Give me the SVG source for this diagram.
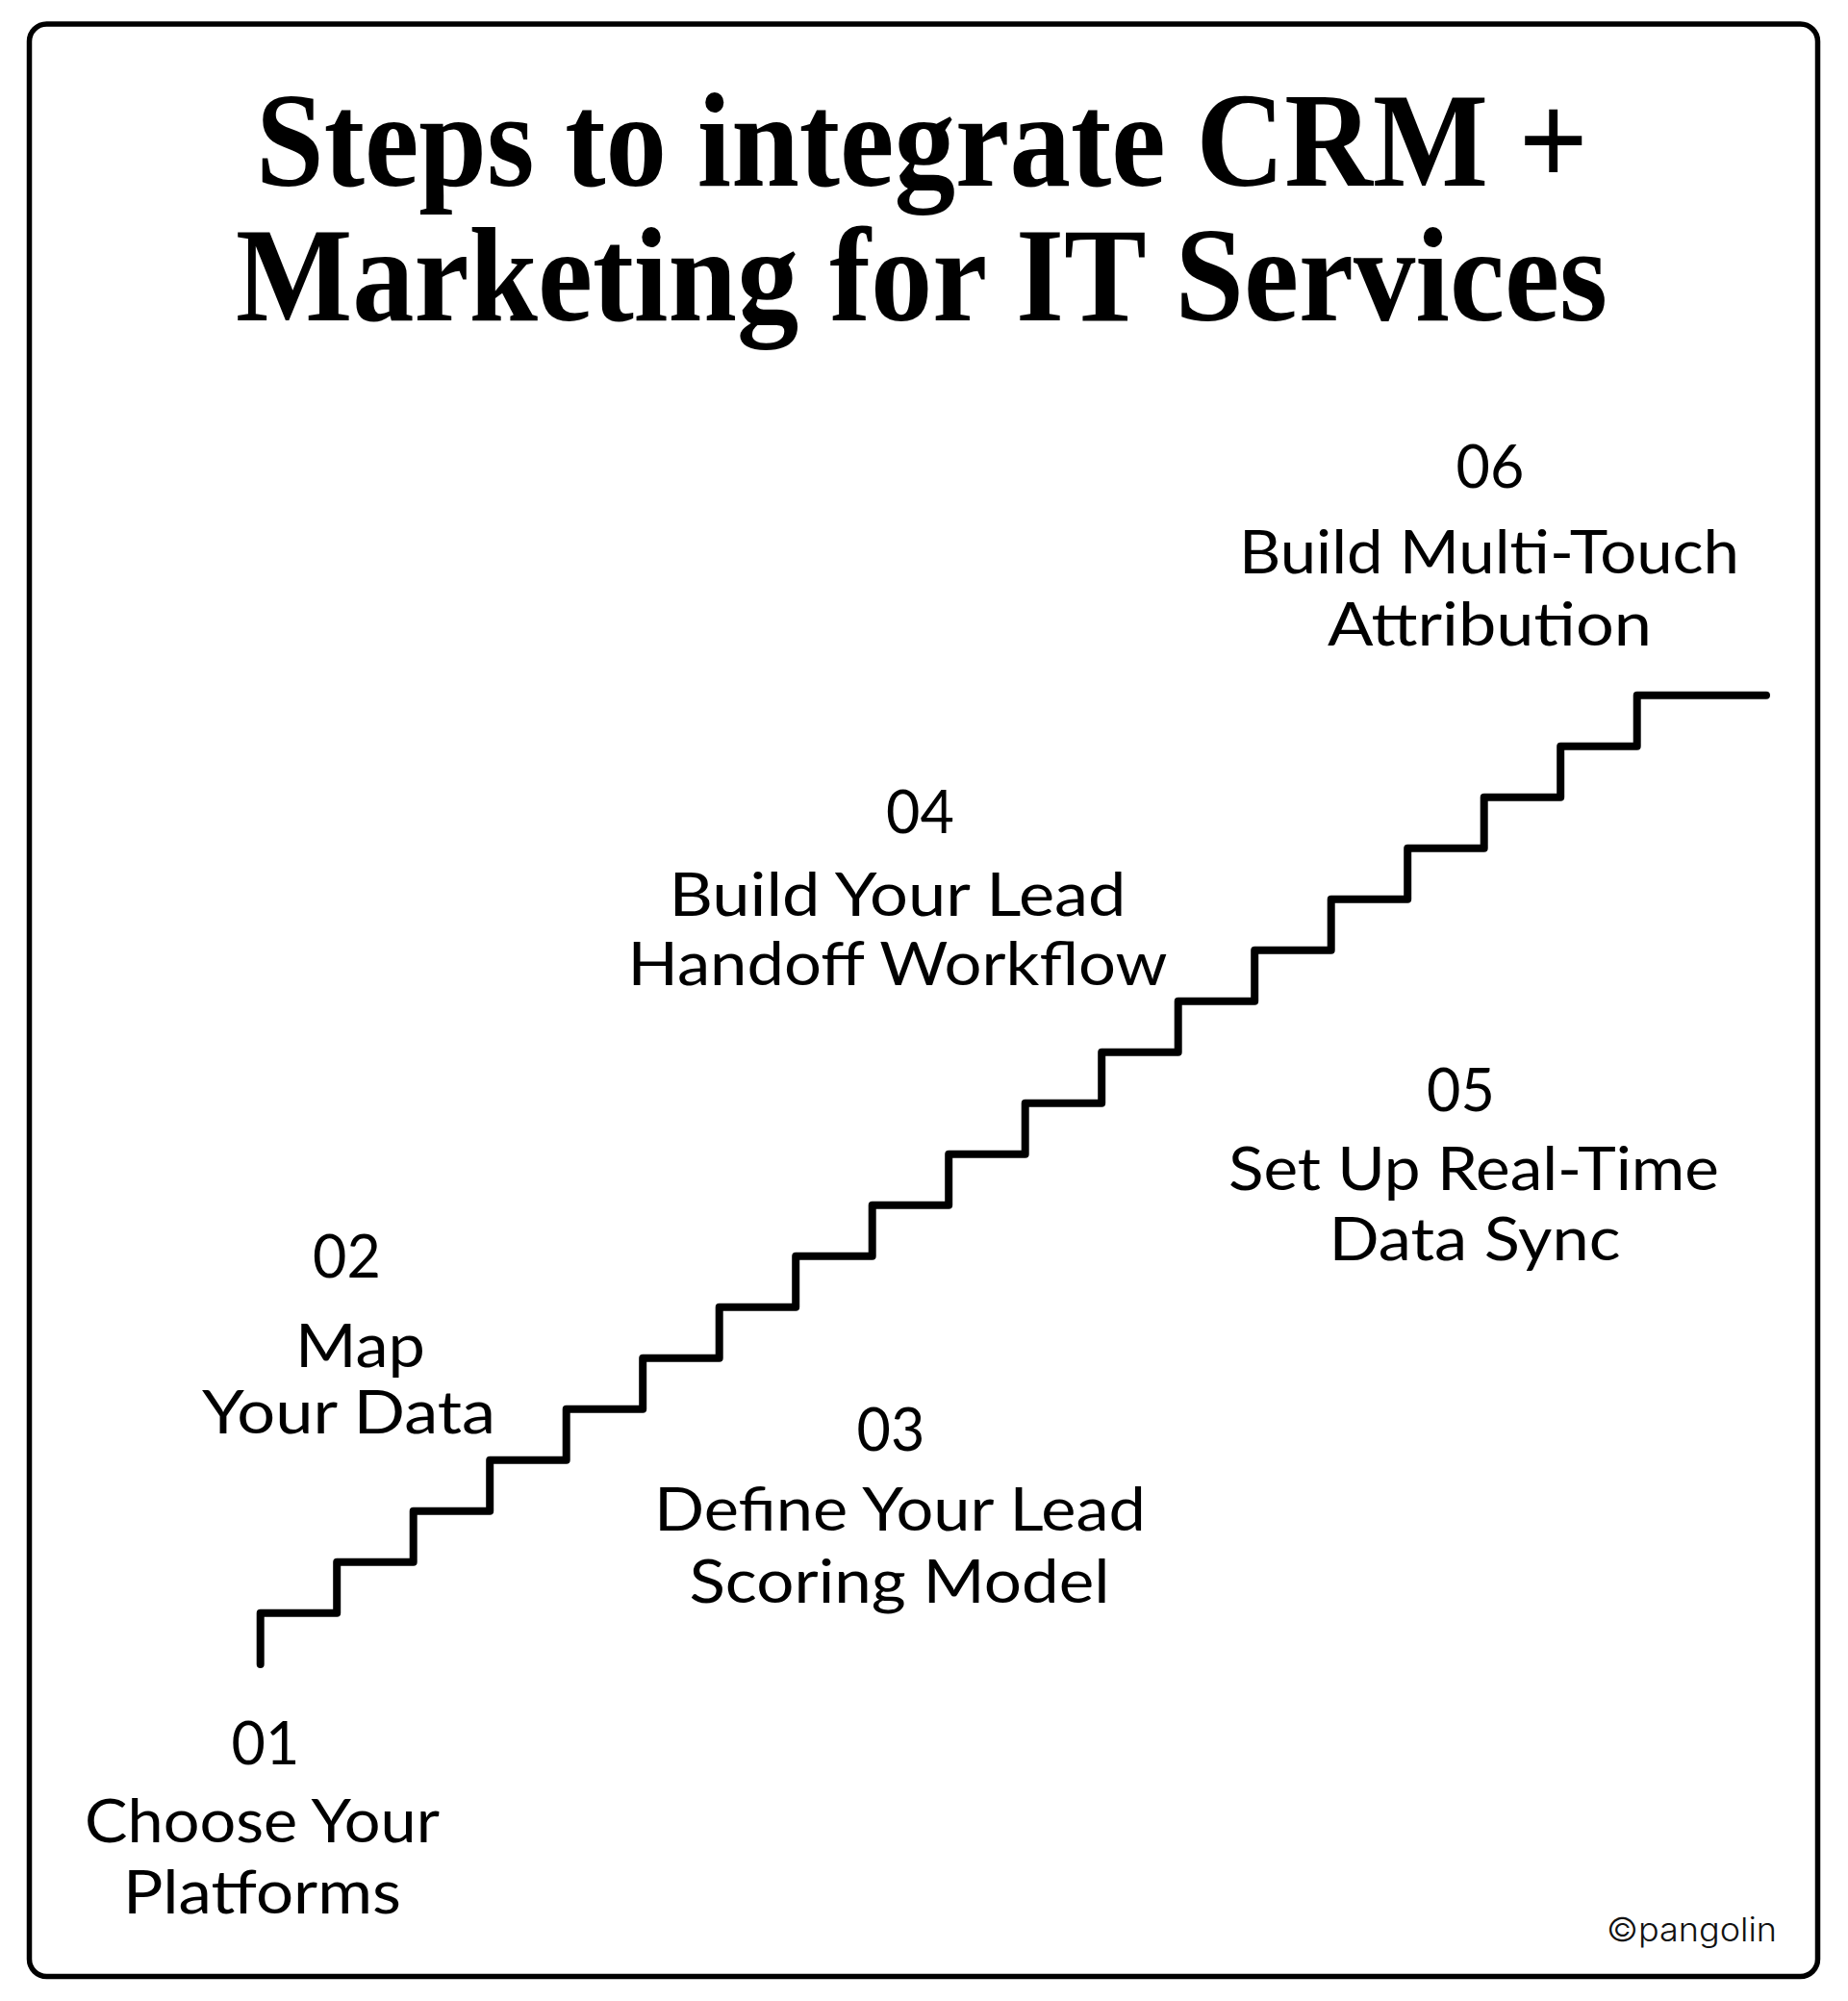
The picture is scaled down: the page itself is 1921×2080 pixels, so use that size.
<svg xmlns="http://www.w3.org/2000/svg" width="1921" height="2080" viewBox="0 0 1921 2080">
<style>
.title{font-family:"Liberation Serif","Times New Roman",serif;font-weight:bold;font-size:140px;fill:#000}
.lbl{font-family:Lato,"Noto Sans","DejaVu Sans",sans-serif;font-size:61px;fill:#000;text-anchor:middle}
.num{font-family:Lato,"Noto Sans","DejaVu Sans",sans-serif;font-size:61px;fill:#000;text-anchor:middle}
.stair{fill:none;stroke:#000;stroke-width:8;stroke-linecap:round;stroke-linejoin:round}
.copy{font-family:Inter,"Liberation Sans",sans-serif;font-weight:300;font-size:34px;fill:#111}
</style>
<rect x="0" y="0" width="1921" height="2080" fill="#fff"/>
<rect id="frame" x="30.5" y="25" width="1859" height="2029.5" rx="18" ry="18" fill="none" stroke="#000" stroke-width="5.5"/>
<g id="title">
<text class="title" x="266" y="193" textLength="1385" lengthAdjust="spacingAndGlyphs">Steps to integrate CRM +</text>
<text class="title" x="245" y="333" textLength="1426" lengthAdjust="spacingAndGlyphs">Marketing for IT Services</text>
</g>
<g id="connectors">
<path id="staircase" class="stair" d="M270.7 1730 V1676.7 H350.2 V1623.7 H429.7 V1570.7 H509.2 V1517.7 H588.7 V1464.7 H668.2 V1411.7 H747.7 V1358.7 H827.2 V1305.7 H906.7 V1252.7 H986.2 V1199.7 H1065.7 V1146.7 H1145.2 V1093.7 H1224.7 V1040.7 H1304.2 V987.7 H1383.7 V934.7 H1463.2 V881.7 H1542.7 V828.7 H1622.2 V775.7 H1701.7 V722.7 H1836"/>
</g>
<g id="step01">
<text class="num" x="276" y="1834">01</text>
<text class="lbl" x="272.5" y="1915" textLength="369" lengthAdjust="spacingAndGlyphs">Choose Your</text>
<text class="lbl" x="272.5" y="1989" textLength="289" lengthAdjust="spacingAndGlyphs">Platforms</text>
</g>
<g id="step02">
<text class="num" x="360.5" y="1328">02</text>
<text class="lbl" x="374.5" y="1421" textLength="135" lengthAdjust="spacingAndGlyphs">Map</text>
<text class="lbl" x="362.5" y="1490" textLength="305" lengthAdjust="spacingAndGlyphs">Your Data</text>
</g>
<g id="step03">
<text class="num" x="926" y="1508">03</text>
<text class="lbl" x="935.5" y="1591" textLength="511" lengthAdjust="spacingAndGlyphs">Define Your Lead</text>
<text class="lbl" x="935" y="1666" textLength="437" lengthAdjust="spacingAndGlyphs">Scoring Model</text>
</g>
<g id="step04">
<text class="num" x="956.5" y="866">04</text>
<text class="lbl" x="933" y="952" textLength="475" lengthAdjust="spacingAndGlyphs">Build Your Lead</text>
<text class="lbl" x="933" y="1024" textLength="561" lengthAdjust="spacingAndGlyphs">Handoff Workflow</text>
</g>
<g id="step05">
<text class="num" x="1518.5" y="1155">05</text>
<text class="lbl" x="1532" y="1237" textLength="510" lengthAdjust="spacingAndGlyphs">Set Up Real-Time</text>
<text class="lbl" x="1533" y="1310" textLength="303" lengthAdjust="spacingAndGlyphs">Data Sync</text>
</g>
<g id="step06">
<text class="num" x="1549" y="507">06</text>
<text class="lbl" x="1548" y="596" textLength="520" lengthAdjust="spacingAndGlyphs">Build Multi-Touch</text>
<text class="lbl" x="1548.5" y="671" textLength="337" lengthAdjust="spacingAndGlyphs">Attribution</text>
</g>
<text class="copy" x="1670" y="2018" textLength="177" lengthAdjust="spacingAndGlyphs">©pangolin</text>
</svg>
